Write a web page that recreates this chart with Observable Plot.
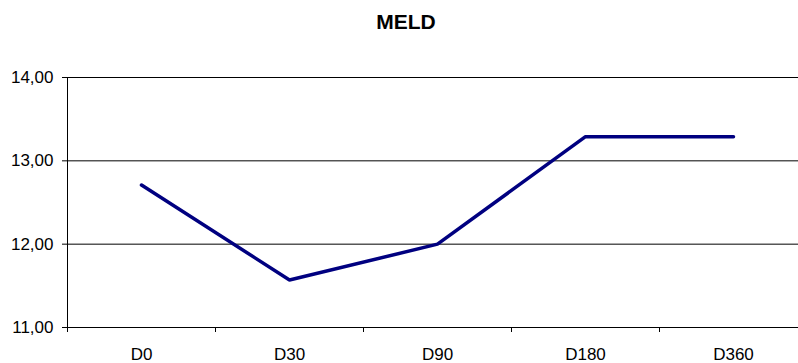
<!DOCTYPE html>
<html>
<head>
<meta charset="utf-8">
<script src="https://cdn.jsdelivr.net/npm/d3@7"></script>
<script src="https://cdn.jsdelivr.net/npm/@observablehq/plot@0.6"></script>
<style>
  html, body { margin: 0; padding: 0; background: #fff; overflow: hidden; }
  #wrap { width: 812px; font-family: "Liberation Sans", Arial, sans-serif; }
  #title {
    width: 812px; height: 40px; box-sizing: border-box; padding-top: 10px;
    text-align: center; font-weight: bold; font-size: 21px; line-height: 24px; color: #000;
  }
</style>
</head>
<body>
<div id="wrap">
  <div id="title">MELD</div>
  <div id="chart"></div>
</div>
<script>
// Visit labels and mean MELD score at each visit
const categories = ["D0", "D30", "D90", "D180", "D360"];
const meld = [12.71, 11.57, 12.00, 13.29, 13.29];
const yTicks = [11, 12, 13, 14];
const gridValues = [12, 13];

const rows = categories.map((c, i) => ({i, label: c, value: meld[i]}));
const idx = categories.map((_, i) => i);
const bounds = [...idx.map(i => i - 0.5), categories.length - 0.5];
const fmt = d => d.toFixed(2).replace(".", ",");

const chart = Plot.plot({
  width: 812,
  height: 323,
  marginLeft: 67,
  marginRight: 5,
  marginTop: 37,
  marginBottom: 36,
  style: {fontFamily: '"Liberation Sans", Arial, sans-serif', fontSize: "17px", color: "#000", background: "#fff"},
  x: {domain: [-0.5, categories.length - 0.5]},
  y: {domain: [11, 14]},
  marks: [
    Plot.ruleY(gridValues, {stroke: "#000", strokeWidth: 1}),
    Plot.frame({stroke: "#000"}),
    Plot.axisY({ticks: yTicks, tickSize: 5, tickPadding: 9, tickFormat: fmt, stroke: "#000", label: null}),
    Plot.axisX({ticks: bounds, tickSize: 5, tickFormat: () => "", stroke: "#000", label: null}),
    Plot.axisX({ticks: idx, tickSize: 0, tickPadding: 20, tickFormat: i => categories[i], label: null}),
    Plot.line(rows, {x: "i", y: "value", stroke: "#000080", strokeWidth: 3.5, strokeLinejoin: "miter", strokeLinecap: "round"})
  ]
});
document.getElementById("chart").appendChild(chart);
</script>
</body>
</html>
